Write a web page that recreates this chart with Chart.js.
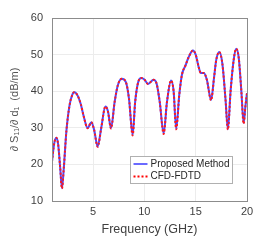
<!DOCTYPE html>
<html>
<head>
<meta charset="utf-8">
<script src="https://cdn.jsdelivr.net/npm/chart.js@4"></script>
<style>
  html, body { margin: 0; padding: 0; background: #fff; }
  #wrap { width: 273px; height: 240px; }
</style>
</head>
<body>
<div id="wrap"><canvas id="myChart" width="273" height="240"></canvas></div>
<script>
// frequency points (GHz)
const freq = [1.0, 1.2, 1.42, 1.6, 1.8, 1.97, 2.15, 2.4, 2.7, 3.0, 3.2, 3.5, 3.8, 4.1, 4.47, 4.83, 5.1, 5.45,
  5.8, 6.2, 6.45, 6.75, 7.1, 7.4, 7.8, 8.2, 8.5, 8.86, 9.1, 9.4, 9.7, 10.0, 10.35, 10.9, 11.2, 11.5, 11.88,
  12.2, 12.6, 12.85, 13.1, 13.4, 13.66, 14.0, 14.3, 14.73, 15.0, 15.3, 15.5, 15.8, 16.1, 16.5, 16.8, 17.0,
  17.3, 17.6, 17.9, 18.14, 18.4, 18.7, 18.95, 19.2, 19.45, 19.67, 19.85, 20.0];

// dS11/dd1 (dB/m), proposed method
const proposed = [20.8, 25.5, 27.3, 25.5, 19.0, 13.5, 19.0, 29.0, 36.0, 39.2, 39.7, 38.8, 36.5, 33.0, 29.9, 31.5, 29.5, 24.9,
  30.0, 35.8, 34.5, 29.9, 37.0, 41.5, 43.4, 42.5, 38.0, 28.1, 37.0, 42.5, 43.6, 43.2, 42.0, 43.1, 42.0, 37.0, 28.5,
  37.0, 42.9, 40.0, 29.7, 39.0, 44.5, 47.0, 49.2, 51.1, 50.0, 46.5, 45.0, 45.0, 43.0, 37.6, 44.0, 48.5,
  50.7, 47.5, 38.0, 29.6, 40.0, 48.5, 51.6, 49.0, 40.0, 31.3, 36.0, 39.5];

// CFD-FDTD reference (overlaps the proposed curve)
const cfdFdtd = [20.8, 25.5, 27.3, 25.5, 19.0, 13.4, 19.0, 29.0, 36.0, 39.2, 39.7, 38.8, 36.5, 33.0, 29.9, 31.5, 29.5, 24.8,
  30.0, 35.8, 34.5, 29.8, 37.0, 41.5, 43.4, 42.5, 38.0, 27.9, 37.0, 42.5, 43.6, 43.2, 42.0, 43.1, 42.0, 37.0, 28.3,
  37.0, 42.9, 40.0, 29.6, 39.0, 44.5, 47.0, 49.2, 51.1, 50.0, 46.5, 45.0, 45.0, 43.0, 37.5, 44.0, 48.5,
  50.7, 47.5, 38.0, 29.5, 40.0, 48.5, 51.6, 49.0, 40.0, 31.1, 36.0, 39.5];

const xTicks = [5, 10, 15, 20];
const yTicks = [10, 20, 30, 40, 50, 60];

const seriesNames = ['Proposed Method', 'CFD-FDTD'];
const FONT = '"Liberation Sans", Arial, sans-serif';
const TXT = '#404040';

const toXY = (ys) => freq.map((f, i) => ({ x: f, y: ys[i] }));

// box round the plot + legend inside the axes (matlab style)
const boxAndLegend = {
  id: 'boxAndLegend',
  afterDraw(chart) {
    const { ctx, chartArea: a } = chart;
    ctx.save();
    ctx.strokeStyle = '#8c8c8c';
    ctx.lineWidth = 1;
    ctx.strokeRect(Math.round(a.left) + 0.5, Math.round(a.top) + 0.5,
      Math.round(a.right - a.left), Math.round(a.bottom - a.top));

    // legend box
    const lx = 130.5, ly = 156.5, lw = 102, lh = 27;
    ctx.fillStyle = '#fff';
    ctx.fillRect(lx, ly, lw, lh);
    ctx.strokeStyle = '#b0b0b0';
    ctx.strokeRect(lx, ly, lw, lh);

    ctx.lineWidth = 2;
    ctx.strokeStyle = '#6a6aff';
    ctx.beginPath(); ctx.moveTo(lx + 3, ly + 7.5); ctx.lineTo(lx + 17, ly + 7.5); ctx.stroke();
    ctx.strokeStyle = '#ff0000';
    ctx.setLineDash([2, 2]);
    ctx.beginPath(); ctx.moveTo(lx + 3, ly + 20); ctx.lineTo(lx + 17, ly + 20); ctx.stroke();
    ctx.setLineDash([]);

    ctx.fillStyle = '#262626';
    ctx.font = '10px ' + FONT;
    ctx.textBaseline = 'middle';
    ctx.textAlign = 'left';
    ctx.fillText(seriesNames[0], lx + 20, ly + 7.5);
    ctx.fillText(seriesNames[1], lx + 20, ly + 20);
    ctx.restore();
  }
};

const ctx = document.getElementById('myChart').getContext('2d');
new Chart(ctx, {
  type: 'line',
  data: {
    datasets: [
      {
        label: seriesNames[0],
        data: toXY(proposed),
        borderColor: '#4a4aff',
        borderWidth: 2,
        pointRadius: 0,
        cubicInterpolationMode: 'monotone',
        order: 2,
      },
      {
        label: seriesNames[1],
        data: toXY(cfdFdtd),
        borderColor: '#ff1a1a',
        borderWidth: 2,
        borderDash: [2, 2],
        pointRadius: 0,
        cubicInterpolationMode: 'monotone',
        order: 1,
      },
    ],
  },
  options: {
    responsive: false,
    animation: false,
    layout: { padding: { left: 0, right: 26, top: 18, bottom: 0 } },
    plugins: {
      legend: { display: false },
      tooltip: { enabled: false },
    },
    scales: {
      x: {
        type: 'linear',
        min: 1,
        max: 20,
        afterBuildTicks: (s) => { s.ticks = xTicks.map(v => ({ value: v })); },
        afterFit: (s) => { s.height = 39; },
        grid: { color: '#ececec', drawTicks: false },
        border: { color: '#8c8c8c' },
        ticks: { color: TXT, font: { family: FONT, size: 11 }, padding: 4, maxRotation: 0 },
        title: { display: true, text: 'Frequency (GHz)', color: TXT, font: { family: FONT, size: 12.5 }, padding: { top: 1, bottom: 3 } },
      },
      y: {
        min: 10,
        max: 60,
        afterBuildTicks: (s) => { s.ticks = yTicks.map(v => ({ value: v })); },
        afterFit: (s) => { s.width = 52; },
        grid: { color: '#ececec', drawTicks: false },
        border: { color: '#8c8c8c' },
        ticks: { color: TXT, font: { family: FONT, size: 11 }, padding: 9 },
        title: { display: true, text: '\u2202 S\u2081\u2081/\u2202 d\u2081  (dB/m)', color: '#555', font: { family: FONT, size: 11 }, padding: { top: 8, bottom: 0 } },
      },
    },
  },
  plugins: [boxAndLegend],
});
</script>
</body>
</html>
